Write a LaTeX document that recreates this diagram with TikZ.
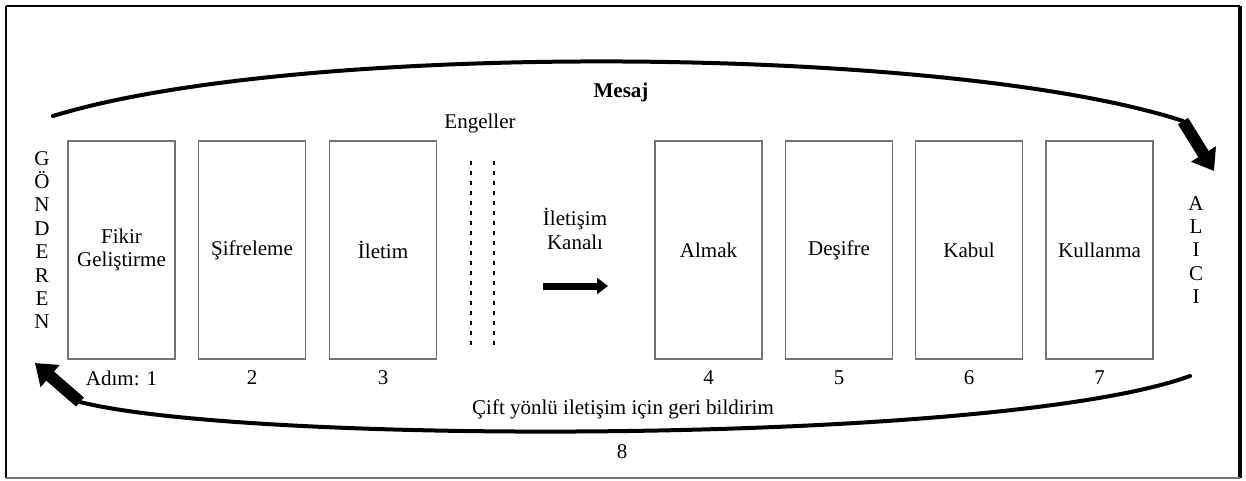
\documentclass[tikz,border=0pt]{standalone}
\usepackage{fontspec}
\setmainfont{Liberation Serif}
\usetikzlibrary{arrows.meta}
\begin{document}
\begin{tikzpicture}[x=1pt,y=-1pt,
  txt/.style={font=\fontsize{21}{23.4}\selectfont, inner sep=0pt, align=center},
  stepbox/.style={txt, draw=black!55, line width=1.3pt, minimum width=107pt, minimum height=218pt},
  curve/.style={line width=4pt, line cap=round},
  bigarrow/.style={line width=12pt, -{Triangle[width=28pt,length=20pt]}},
  smallarrow/.style={line width=7pt, -{Triangle[width=16pt,length=11pt]}},
  barrier/.style={line width=2pt, dash pattern=on 4pt off 6pt},
]
\useasboundingbox (0,0) rectangle (1246,480);
\draw[line width=2pt] (6,6) -- (1240,6);
\draw[line width=2pt] (6,6) -- (6,478);
\draw[line width=3.5pt] (1240,6) -- (1240,478);
\draw[line width=1.5pt, black!55] (6,478) -- (1240,478);

% boxes
\node[stepbox] (b1) at (121.5,250) {Fikir\\Geliştirme};
\node[stepbox] (b2) at (252,250) {Şifreleme};
\node[stepbox] (b3) at (383,250) {İletim};
\node[stepbox] (b4) at (708.5,250) {Almak};
\node[stepbox] (b5) at (839,250) {Deşifre};
\node[stepbox] (b6) at (969,250) {Kabul};
\node[stepbox] (b7) at (1099.5,250) {Kullanma};

% step numbers
\node[txt] (n1) at (121.5,378) {Adım: 1};
\node[txt] (n2) at (252,378) {2};
\node[txt] (n3) at (383,378) {3};
\node[txt] (n4) at (708.5,378) {4};
\node[txt] (n5) at (839,378) {5};
\node[txt] (n6) at (969,378) {6};
\node[txt] (n7) at (1099.5,378) {7};

% sender / receiver
\node[txt] (send) at (42,240) {G\\Ö\\N\\D\\E\\R\\E\\N};
\node[txt] (recv) at (1196,250) {A\\L\\I\\C\\I};

% barriers and channel
\node[txt] (eng) at (480,123) {Engeller};
\coordinate (d1a) at (471,161);
\coordinate (d1b) at (471,347);
\coordinate (d2a) at (494,161);
\coordinate (d2b) at (494,347);
\draw[barrier] (d1a) -- (d1b);
\draw[barrier] (d2a) -- (d2b);
\node[txt] (kanal) at (575,229) {İletişim\\Kanalı};
\coordinate (ca) at (543,286);
\coordinate (cb) at (608,286);
\draw[smallarrow] (ca) -- (cb);

% message curve
\node[txt, font=\fontsize{21}{23.4}\selectfont\bfseries] (mesaj) at (621,92) {Mesaj};
\coordinate (ms) at (53,116);
\coordinate (me) at (1183,121);
\coordinate (mt) at (1214,171);
\draw[curve] (ms) .. controls (300,40) and (950,45) .. (me);
\draw[bigarrow] (me) -- (mt);

% feedback curve
\node[txt] (fb) at (623,409) {Çift yönlü iletişim için geri bildirim};
\node[txt] (n8) at (622,452) {8};
\coordinate (fs) at (1190,376);
\coordinate (fe) at (80,402);
\coordinate (ft) at (35,363);
\draw[curve] (fs) .. controls (1000,445) and (250,445) .. (fe);
\draw[bigarrow] (fe) -- (ft);
\end{tikzpicture}
\end{document}
